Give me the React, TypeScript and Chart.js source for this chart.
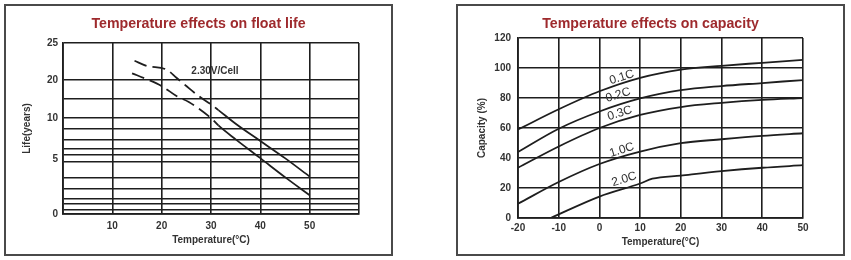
import React, { useEffect, useRef } from "react";
import { Chart, registerables, LinearScale } from "chart.js";

// ---------- Data: Temperature effects on float life ----------
const lifeUpperTemps = [14.5, 17, 21, 23, 25, 27.5, 30, 31.5, 35, 40, 45, 50];
const lifeUpperYears = [22.6, 21.9, 21.4, 20.3, 18.4, 15.8, 13.6, 12.1, 9.3, 7.2, 5.1, 3.4];
const lifeLowerTemps = [14, 17, 20, 23, 25.5, 30, 31.5, 35, 40, 45, 50];
const lifeLowerYears = [20.9, 20.1, 18.4, 15.8, 14.2, 10.0, 9.1, 7.4, 5.1, 3.35, 1.7];
const lifeGridValues = [0, 0.4, 0.9, 1.4, 2.3, 3.3, 4.7, 5, 5.5, 6.3, 7.4, 8.7, 10, 15, 20, 25];
const lifeTickLabels = [0, 5, 10, 20, 25];
const lifeTempTicks = [10, 20, 30, 40, 50];
const lifeNoteText = "2.30V/Cell";
const lifeNoteAt = [30.8, 21.2];

// ---------- Data: Temperature effects on capacity ----------
const capTemps = [-20, -10, 0, 10, 20, 30, 40, 50];
const cap01 = [59, 72.5, 84.5, 93.5, 99, 101.5, 103.5, 105.5];
const cap02 = [44, 59.5, 71, 79.7, 85.2, 88, 90, 92];
const cap03 = [33.5, 47.7, 60, 68.7, 74, 76.8, 78.8, 80];
const cap10 = [9.5, 24, 36, 44.3, 49.9, 52.5, 54.8, 56.5];
const cap20Temps = [-12, 0, 10, 13, 20, 30, 40, 50];
const cap20 = [0, 14.3, 23, 26.2, 28.3, 31.2, 33.5, 35.2];
const capLabels = ["0.1C", "0.2C", "0.3C", "1.0C", "2.0C"];
const capLabelTemps = [5.5, 4.6, 5.0, 5.5, 6.1];
const capLabelValues = [93.8, 82, 69.8, 45.3, 25.8];

// Warped life axis: value knots and where they sit along the axis (0..1)
const LIFE_KNOT_VALUES = [0, 5, 10, 20, 25];
const LIFE_KNOT_FRACTIONS = [0, 0.322, 0.561, 0.784, 1];

function warp(v: number): number {
  const kv = LIFE_KNOT_VALUES, kf = LIFE_KNOT_FRACTIONS;
  if (v <= kv[0]) return kf[0] + (v - kv[0]) * (kf[1] - kf[0]) / (kv[1] - kv[0]);
  for (let i = 1; i < kv.length; i++) {
    if (v <= kv[i]) return kf[i - 1] + (v - kv[i - 1]) * (kf[i] - kf[i - 1]) / (kv[i] - kv[i - 1]);
  }
  const n = kv.length - 1;
  return kf[n] + (v - kv[n]) * (kf[n] - kf[n - 1]) / (kv[n] - kv[n - 1]);
}
function unwarp(d: number): number {
  const kv = LIFE_KNOT_VALUES, kf = LIFE_KNOT_FRACTIONS;
  for (let i = 1; i < kf.length; i++) {
    if (d <= kf[i]) return kv[i - 1] + (d - kf[i - 1]) * (kv[i] - kv[i - 1]) / (kf[i] - kf[i - 1]);
  }
  const n = kv.length - 1;
  return kv[n] + (d - kf[n]) * (kv[n] - kv[n - 1]) / (kf[n] - kf[n - 1]);
}

class WarpedLinearScale extends (LinearScale as any) {
  static id = "warpedLinear";
  static defaults = (LinearScale as any).defaults;
  buildTicks() {
    return lifeGridValues.map((v) => ({ value: v }));
  }
  getPixelForValue(value: any) {
    if (value === null || value === undefined || isNaN(value)) return NaN;
    return (this as any).getPixelForDecimal(warp(value));
  }
  getValueForPixel(pixel: number) {
    return unwarp((this as any).getDecimalForPixel(pixel));
  }
}

Chart.register(...registerables, WarpedLinearScale as any);

const FONT = "'Liberation Sans', Arial, sans-serif";
const INK = "#1e1e1e";
const TEXT = "#333333";
const TITLE_RED = "#9e2a2d";

function zip(xs: number[], ys: number[]) {
  return xs.map((x, i) => ({ x, y: ys[i] }));
}

type Note = { text: string; x: number; y: number; rot: number; bold: boolean; size: number };

function notesPlugin(notes: Note[]) {
  return {
    id: "notes",
    afterDatasetsDraw(chart: any) {
      const { ctx, scales } = chart;
      ctx.save();
      for (const n of notes) {
        const px = scales.x.getPixelForValue(n.x);
        const py = scales.y.getPixelForValue(n.y);
        ctx.save();
        ctx.translate(px, py);
        ctx.rotate((n.rot * Math.PI) / 180);
        ctx.font = `${n.bold ? "bold " : ""}${n.size}px ${FONT}`;
        ctx.fillStyle = TEXT;
        ctx.textAlign = "center";
        ctx.textBaseline = "middle";
        ctx.fillText(n.text, 0, 0);
        ctx.restore();
      }
      ctx.restore();
    },
  };
}

function lineDs(data: { x: number; y: number }[], dashedUntil?: number) {
  return {
    data,
    borderColor: INK,
    borderWidth: 1.8,
    pointRadius: 0,
    fill: false,
    cubicInterpolationMode: "monotone" as const,
    segment:
      dashedUntil !== undefined
        ? { borderDash: (c: any) => (c.p1.parsed.x <= dashedUntil ? [13, 6] : undefined) }
        : undefined,
  };
}

// invisible right-hand spacer axis so the plot ends where the reference's does,
// while the title stays centred on the whole panel
function spacerAxis(width: number) {
  return {
    type: "linear",
    position: "right",
    display: true,
    afterFit: (s: any) => { s.width = width; },
    ticks: { display: false },
    grid: { display: false, drawTicks: false },
    border: { display: false },
  };
}

function baseOptions(titleText: string, titleBottom: number) {
  return {
    responsive: false,
    animation: false as const,
    devicePixelRatio: 1,
    events: [],
    layout: { padding: 0 },
    plugins: {
      legend: { display: false },
      tooltip: { enabled: false },
      title: {
        display: true,
        text: titleText,
        color: TITLE_RED,
        font: { family: FONT, size: 14.2, weight: "bold" as const },
        padding: { top: 9.5, bottom: titleBottom },
      },
    },
  };
}

function LifeChart() {
  const ref = useRef<HTMLCanvasElement>(null);
  useEffect(() => {
    const notes: Note[] = [
      { text: lifeNoteText, x: lifeNoteAt[0], y: lifeNoteAt[1], rot: 0, bold: true, size: 10 },
    ];
    const chart = new Chart(ref.current!, {
      type: "line",
      data: {
        datasets: [
          lineDs(zip(lifeUpperTemps, lifeUpperYears), 31.5),
          lineDs(zip(lifeLowerTemps, lifeLowerYears), 31.5),
        ] as any,
      },
      options: {
        ...baseOptions("Temperature effects on float life", 10.5),
        scales: {
          x: {
            type: "linear",
            min: 0,
            max: 60,
            afterFit: (s: any) => { s.height = 40; },
            ticks: {
              stepSize: 10,
              padding: 6,
              color: TEXT,
              font: { family: FONT, size: 10, weight: "bold" },
              callback: (v: any) => (lifeTempTicks.includes(v) ? String(v) : ""),
            },
            grid: { color: INK, lineWidth: 1.6, drawTicks: false },
            border: { color: INK, width: 1.8 },
            title: {
              display: true,
              text: "Temperature(°C)",
              color: TEXT,
              font: { family: FONT, size: 10, weight: "bold" },
              padding: { top: 0, bottom: 8 },
            },
          },
          y: {
            type: "warpedLinear",
            min: 0,
            max: 25,
            afterFit: (s: any) => { s.width = 57; },
            ticks: {
              autoSkip: false,
              padding: 5,
              color: TEXT,
              font: { family: FONT, size: 10, weight: "bold" },
              callback: (v: any) => (lifeTickLabels.includes(v) ? String(v) : ""),
            },
            grid: {
              drawTicks: false,
              lineWidth: 1.6,
              color: (c: any) => (c.tick && c.tick.value === 5 ? "rgba(0,0,0,0)" : INK),
            },
            border: { color: INK, width: 1.8 },
            title: {
              display: true,
              text: "Life(years)",
              color: TEXT,
              font: { family: FONT, size: 10, weight: "bold" },
              padding: { top: 15, bottom: 0 },
            },
          },
          spacer: spacerAxis(32),
        } as any,
      },
      plugins: [notesPlugin(notes)],
    } as any);
    return () => chart.destroy();
  }, []);
  return <canvas ref={ref} width={385} height={248} style={{ display: "block" }} />;
}

function CapacityChart() {
  const ref = useRef<HTMLCanvasElement>(null);
  useEffect(() => {
    const notes: Note[] = capLabels.map((t, i) => ({
      text: t,
      x: capLabelTemps[i],
      y: capLabelValues[i],
      rot: -17,
      bold: false,
      size: 12,
    }));
    const chart = new Chart(ref.current!, {
      type: "line",
      data: {
        datasets: [
          lineDs(zip(capTemps, cap01)),
          lineDs(zip(capTemps, cap02)),
          lineDs(zip(capTemps, cap03)),
          lineDs(zip(capTemps, cap10)),
          lineDs(zip(cap20Temps, cap20)),
        ] as any,
      },
      options: {
        ...baseOptions("Temperature effects on capacity", 5.5),
        scales: {
          x: {
            type: "linear",
            min: -20,
            max: 50,
            afterFit: (s: any) => { s.height = 36; },
            ticks: {
              stepSize: 10,
              padding: 4,
              color: TEXT,
              font: { family: FONT, size: 10, weight: "bold" },
            },
            grid: { color: INK, lineWidth: 1.6, drawTicks: false },
            border: { color: INK, width: 1.8 },
            title: {
              display: true,
              text: "Temperature(°C)",
              color: TEXT,
              font: { family: FONT, size: 10, weight: "bold" },
              padding: { top: 0, bottom: 6 },
            },
          },
          y: {
            type: "linear",
            min: 0,
            max: 120,
            afterFit: (s: any) => { s.width = 60; },
            ticks: {
              stepSize: 20,
              padding: 7,
              color: TEXT,
              font: { family: FONT, size: 10, weight: "bold" },
            },
            grid: { color: INK, lineWidth: 1.6, drawTicks: false },
            border: { color: INK, width: 1.8 },
            title: {
              display: true,
              text: "Capacity (%)",
              color: TEXT,
              font: { family: FONT, size: 10, weight: "bold" },
              padding: { top: 18, bottom: 0 },
            },
          },
          spacer: spacerAxis(40),
        } as any,
      },
      plugins: [notesPlugin(notes)],
    } as any);
    return () => chart.destroy();
  }, []);
  return <canvas ref={ref} width={385} height={248} style={{ display: "block" }} />;
}

const frameStyle = (left: number): React.CSSProperties => ({
  position: "absolute",
  left,
  top: 4,
  width: 385,
  height: 248,
  border: "2px solid #4a4a4a",
});

export default function App() {
  return (
    <div
      style={{
        position: "fixed",
        left: 0,
        top: 0,
        width: 851,
        height: 260,
        background: "#ffffff",
        overflow: "hidden",
      }}
    >
      <div style={frameStyle(4)}>
        <LifeChart />
      </div>
      <div style={frameStyle(456)}>
        <CapacityChart />
      </div>
    </div>
  );
}
